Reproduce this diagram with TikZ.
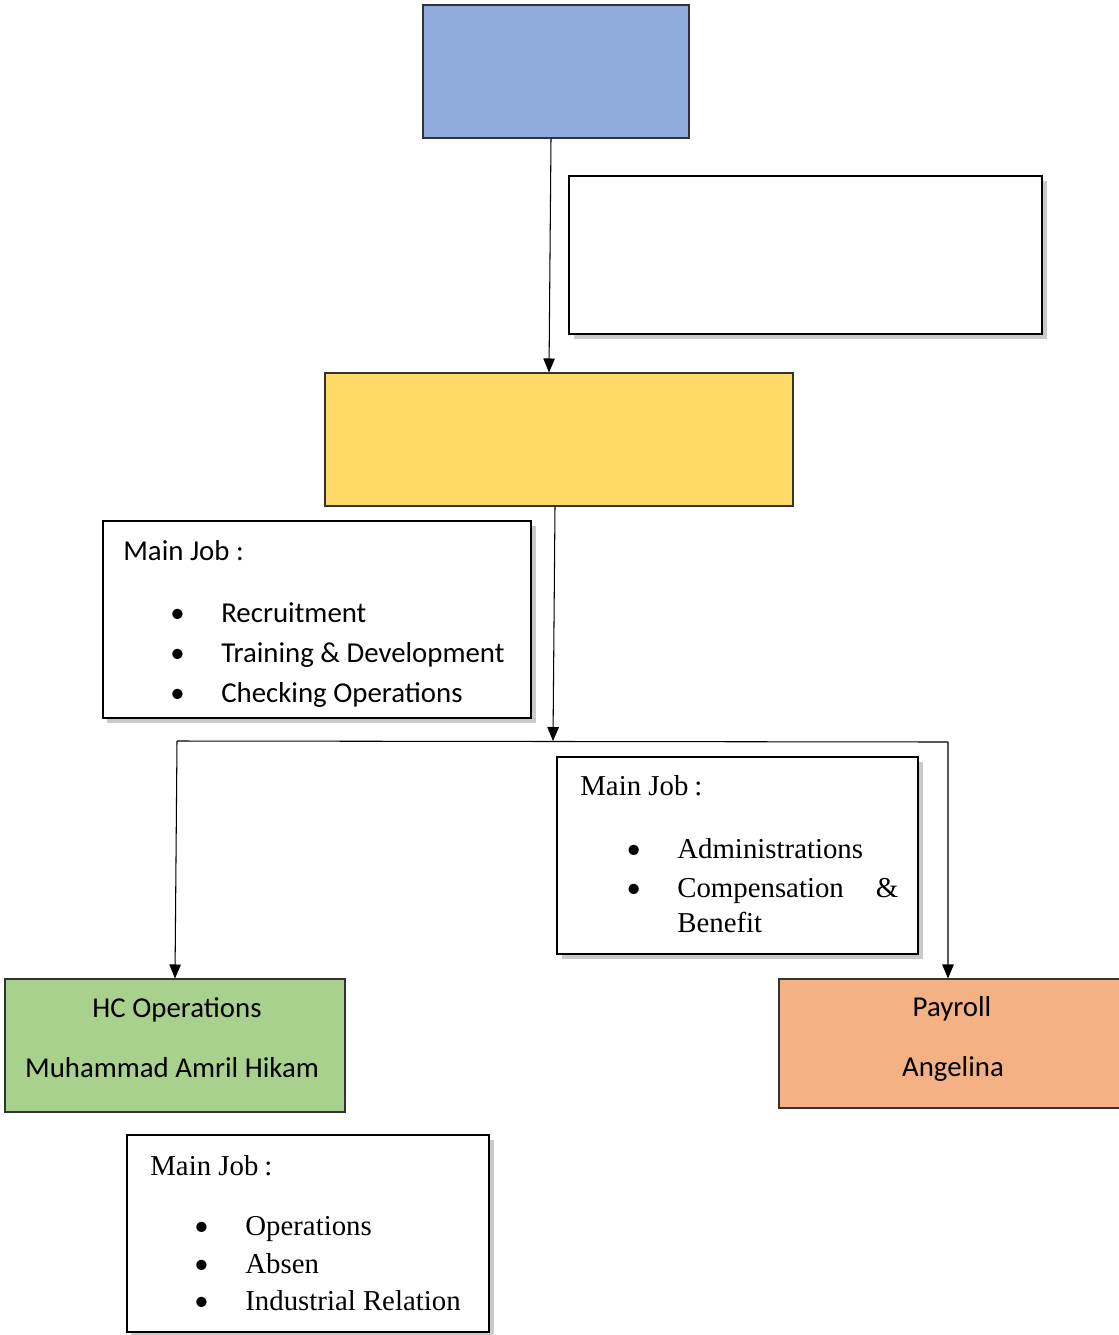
\documentclass[tikz,border=0pt]{standalone}
\usepackage{fontspec}
\setmainfont{Carlito}
\newfontfamily\timesfont{Liberation Serif}
\newfontfamily\bulletfont{Carlito}
\usetikzlibrary{arrows.meta,shadows}
\newcommand{\jobitem}[1]{\llap{{\bulletfont\textbullet}\hspace{7.3mm}}#1}

\begin{document}
\begin{tikzpicture}[x=0.2mm,y=-0.2mm,
    colbox/.style={draw=black!80,line width=0.6pt,inner sep=0pt},
    jobbox/.style={draw=black,line width=1.2pt,fill=white,inner sep=0pt,
      drop shadow={shadow xshift=0.9mm,shadow yshift=-0.9mm,fill=black!35,opacity=0.6}},
    txt/.style={inner sep=0pt,font=\fontsize{16.4}{20}\selectfont},
    serif/.style={inner sep=0pt,font=\fontsize{16.4}{20}\selectfont\timesfont},
    arr/.style={line width=0.6pt,-{Triangle[length=2.8mm,width=2.3mm]}}]
  \useasboundingbox (0,0) rectangle (1119,1335);

  \node[colbox,fill={rgb,255:red,143;green,170;blue,220},minimum width=53.2mm,minimum height=26.6mm] (boss) at (556,71.5) {};
  \node[jobbox,minimum width=94.6mm,minimum height=31.6mm] (note) at (805.5,255) {};
  \node[colbox,fill={rgb,255:red,255;green,217;blue,102},minimum width=93.6mm,minimum height=26.6mm] (head) at (559,439.5) {};

  \node[jobbox,minimum width=85.6mm,minimum height=39.4mm] (jobA) at (317,619.5) {};
  \node[txt,anchor=base west] (mainA) at (123,560) {Main Job :};
  \node[txt,anchor=base west] (recruit) at (221,622) {\jobitem{Recruitment}};
  \node[txt,anchor=base west] (training) at (221,662) {\jobitem{Training \& Development}};
  \node[txt,anchor=base west] (checking) at (221,702) {\jobitem{Checking Operations}};

  \node[jobbox,minimum width=72.2mm,minimum height=39.4mm] (jobB) at (737.5,855.5) {};
  \node[serif,anchor=base west] (mainB) at (580,795) {Main Job\hspace{1.2mm}:};
  \node[serif,anchor=base west] (admin) at (677,858) {\jobitem{Administrations}};
  \node[serif,anchor=base west] (compens) at (677,897) {\jobitem{\makebox[44.2mm][l]{Compensation\hfill\&}}};
  \node[serif,anchor=base west] (benefit) at (677,932) {Benefit};

  \node[colbox,fill={rgb,255:red,169;green,209;blue,142},minimum width=68mm,minimum height=26.6mm] (hcops) at (175,1045.5) {};
  \node[txt,anchor=base] (hcname) at (177,1017) {HC Operations};
  \node[txt,anchor=base] (hcperson) at (172,1077) {Muhammad Amril Hikam};

  \node[colbox,fill={rgb,255:red,244;green,177;blue,131},minimum width=68.6mm,minimum height=25.8mm] (payroll) at (950.5,1043.5) {};
  \node[txt,anchor=base] (payname) at (952,1016) {Payroll};
  \node[txt,anchor=base] (payperson) at (953,1076) {Angelina};

  \node[jobbox,minimum width=72.4mm,minimum height=39.4mm] (jobC) at (308,1233.5) {};
  \node[serif,anchor=base west] (mainC) at (150,1175) {Main Job\hspace{1.2mm}:};
  \node[serif,anchor=base west] (ops) at (245,1235) {\jobitem{Operations}};
  \node[serif,anchor=base west] (absen) at (245,1273) {\jobitem{Absen}};
  \node[serif,anchor=base west] (indrel) at (245,1310) {\jobitem{Industrial Relation}};

  \coordinate (split) at (553,741);
  \coordinate (left) at (177,741);
  \coordinate (right) at (948,742);
  \draw[arr] ([xshift=-1mm]boss.south) -- ([xshift=-2mm]head.north);
  \draw[arr] ([xshift=-0.8mm]head.south) -- (split);
  \draw[line width=0.6pt] (left) -- (right);
  \draw[arr] (left) -- (hcops.north);
  \draw[arr] (right) -- ([xshift=-0.5mm]payroll.north);
\end{tikzpicture}
\end{document}
